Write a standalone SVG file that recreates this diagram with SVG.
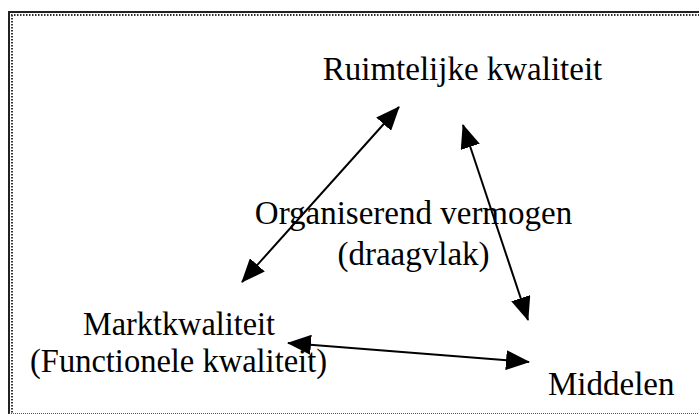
<svg xmlns="http://www.w3.org/2000/svg" width="699" height="416" viewBox="0 0 699 416">
<style>
text{font-family:'Liberation Serif','Times New Roman',Times,'DejaVu Serif',serif;font-size:33px;fill:#000}
.c{stroke:#000;stroke-width:2;fill:none;marker-start:url(#ah);marker-end:url(#ah)}
</style>
<defs>
<marker id="ah" markerUnits="userSpaceOnUse" viewBox="0 0 24 20" refX="23" refY="10" markerWidth="24" markerHeight="20" orient="auto-start-reverse">
<path d="M0,0 L24,10 L0,20 Z" fill="#000"/>
</marker>
</defs>
<rect width="699" height="416" fill="#fff"/>
<g id="frame">
<line x1="8" y1="12" x2="699" y2="12" stroke="#222" stroke-width="2"/>
<line x1="9" y1="11" x2="9" y2="414" stroke="#222" stroke-width="2"/>
<line x1="11" y1="15" x2="699" y2="15" stroke="#333" stroke-width="2" stroke-dasharray="1.5,1.5"/>
<line x1="12" y1="15" x2="12" y2="413" stroke="#333" stroke-width="2" stroke-dasharray="1.5,1.5"/>
<line x1="9" y1="413.5" x2="699" y2="413.5" stroke="#555" stroke-width="1" stroke-dasharray="1,1"/>
</g>
<g id="connectors">
<line class="c" x1="242" y1="282" x2="399" y2="107"/>
<line class="c" x1="463" y1="125" x2="528" y2="320"/>
<line class="c" x1="288" y1="343" x2="529" y2="362"/>
</g>
<g id="ruimtelijke">
<text x="462.5" y="80" text-anchor="middle">Ruimtelijke kwaliteit</text>
</g>
<g id="organiserend">
<text x="413.5" y="224" text-anchor="middle">Organiserend vermogen</text>
<text x="413.5" y="265" text-anchor="middle">(draagvlak)</text>
</g>
<g id="markt">
<text x="83" y="335" textLength="192" lengthAdjust="spacingAndGlyphs">Marktkwaliteit</text>
<text x="30" y="372" textLength="297" lengthAdjust="spacingAndGlyphs">(Functionele kwaliteit)</text>
</g>
<g id="middelen">
<text x="548" y="395">Middelen</text>
</g>
</svg>
